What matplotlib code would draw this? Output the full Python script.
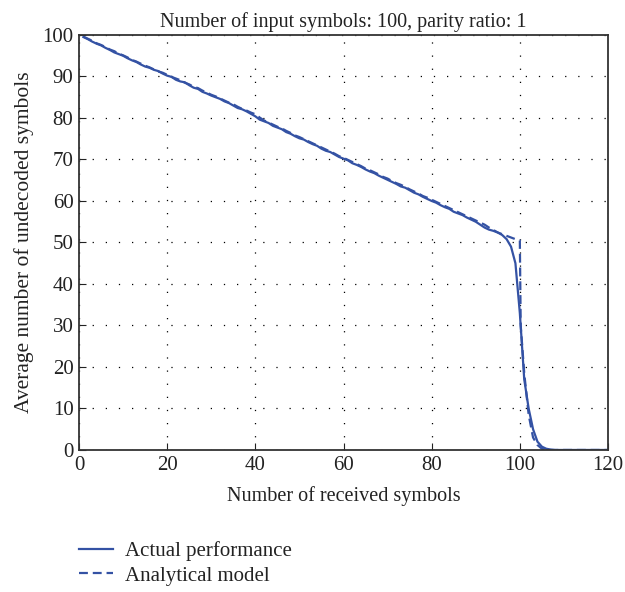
import numpy as np
import matplotlib
matplotlib.use("Agg")
import matplotlib.pyplot as plt

plt.rcParams['font.family'] = ['Liberation Serif', 'DejaVu Serif']

# received symbols and measured mean number of undecoded symbols
received = list(range(1, 121))
actual = [
    99.5, 99.0, 98.4, 97.9, 97.5, 96.9, 96.4, 95.8, 95.4, 95.0,
    94.4, 93.9, 93.5, 92.9, 92.4, 92.1, 91.6, 91.3, 90.7, 90.2,
    89.9, 89.2, 88.8, 88.6, 87.9, 87.3, 87.0, 86.3, 85.9, 85.4,
    85.0, 84.6, 84.0, 83.6, 83.0, 82.4, 82.1, 81.6, 81.0, 80.4,
    79.6, 79.2, 78.8, 78.1, 77.7, 77.3, 76.6, 76.2, 75.6, 75.1,
    74.8, 74.2, 73.7, 73.3, 72.6, 72.1, 71.8, 71.2, 70.6, 70.2,
    69.8, 69.1, 68.7, 68.2, 67.6, 67.1, 66.7, 66.1, 65.6, 65.1,
    64.6, 64.1, 63.5, 63.2, 62.6, 62.0, 61.6, 61.0, 60.5, 60.0,
    59.6, 59.0, 58.5, 58.1, 57.4, 57.0, 56.6, 56.0, 55.5, 55.0,
    54.3, 53.6, 53.1, 52.8, 52.4, 51.8, 50.8, 49.0, 45.0, 33.0,
    17.0, 10.0, 5.0, 2.0, 0.8, 0.3, 0.1, 0.0, 0.0, 0.0,
    0.0, 0.0, 0.0, 0.0, 0.0, 0.0, 0.0, 0.0, 0.0, 0.0,
]

# analytical prediction
model_x = list(range(1, 101)) + [100.2, 101, 102, 103, 104, 105, 106, 110, 120]
model = [
    99.6, 99.1, 98.6, 98.0, 97.6, 97.1, 96.5, 96.1, 95.5, 95.1,
    94.6, 94.0, 93.6, 93.1, 92.6, 92.2, 91.7, 91.2, 90.9, 90.4,
    89.9, 89.5, 89.1, 88.5, 88.1, 87.5, 87.2, 86.6, 86.1, 85.6,
    85.2, 84.7, 84.2, 83.7, 83.3, 82.7, 82.2, 81.8, 81.3, 80.9,
    80.1, 79.4, 78.9, 78.4, 77.9, 77.5, 76.9, 76.4, 75.8, 75.4,
    74.9, 74.4, 73.9, 73.4, 72.9, 72.4, 71.9, 71.4, 70.8, 70.4,
    69.9, 69.4, 68.9, 68.4, 67.8, 67.4, 66.9, 66.4, 65.8, 65.4,
    64.8, 64.3, 63.9, 63.4, 62.8, 62.3, 61.8, 61.2, 60.8, 60.3,
    59.8, 59.3, 58.8, 58.3, 57.8, 57.3, 56.8, 56.3, 55.8, 55.3,
    54.8, 54.3, 53.6, 53.0, 52.4, 52.0, 51.6, 51.2, 50.8, 50.5,
    30.0, 18.5, 8.5, 3.0, 1.2, 0.3, 0.0, 0.0, 0.0,
]

blue = '#3452a4'
ink = '#222222'

fig = plt.figure(figsize=(6.25, 5.92), dpi=100)
ax = fig.add_axes([0.1264, 0.2399, 0.8464, 0.701])

ax.plot(received, actual, color=blue, lw=1.6, label='Actual performance')
ax.plot(model_x, model, color=blue, lw=1.6, ls=(0, (4, 2.2)), label='Analytical model')

ax.set_xlim(0, 120)
ax.set_ylim(0, 100)
ax.set_xticks(np.arange(0, 121, 20))
ax.set_yticks(np.arange(0, 101, 10))
ax.tick_params(direction='in', length=5, labelsize=15, colors=ink, pad=4)
ax.grid(True, color='black', lw=0.9, ls=(0, (1, 9.5)))
for s in ax.spines.values():
    s.set_linewidth(1.3)
    s.set_color('#333333')

ax.set_title('Number of input symbols: 100, parity ratio: 1', fontsize=14.5, color=ink, pad=6)
ax.set_xlabel('Number of received symbols', fontsize=14.5, color=ink, labelpad=8)
ax.set_ylabel('Average number of undecoded symbols', fontsize=15.5, color=ink, labelpad=6)

fig.legend(loc='upper left', bbox_to_anchor=(0.097, 0.118), frameon=False, fontsize=15,
           handlelength=1.6, handletextpad=0.6, labelspacing=0.25, labelcolor=ink)

fig.savefig('out.png', dpi=100)
